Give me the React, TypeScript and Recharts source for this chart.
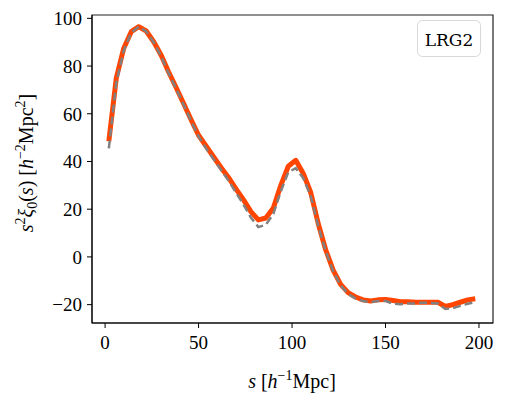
import { LineChart, Line, XAxis, YAxis, ReferenceArea } from 'recharts'

// separation bins (h^-1 Mpc)
const sBins = [
  2, 6, 10, 14, 18, 22, 26, 30, 34, 38, 42, 46, 50, 54, 58, 62, 66, 70, 74, 78, 82, 86, 90, 94, 98,
  102, 106, 110, 114, 118, 122, 126, 130, 134, 138, 142, 146, 150, 154, 158, 162, 166, 170, 174, 178,
  182, 186, 190, 194, 198,
]

// s^2 xi_0 for the thick orange curve
const xiOrange = [
  48.5, 75, 87.5, 94.4, 96.5, 94.7, 90.2, 84.5, 77.5, 71, 64.3, 57.5, 51, 46.5, 42, 37.5, 33.3, 28.5, 24,
  19, 15.5, 16.3, 20.5, 30, 38, 40.5, 35, 27, 14, 3, -5.5, -11.5, -15, -16.8, -18, -18.5, -18, -17.8,
  -18.3, -18.8, -18.8, -19, -19, -19, -19, -20.8, -20, -19, -18, -17.5,
]

// s^2 xi_0 for the grey dashed curve
const xiGray = [
  45.5, 73, 86.5, 94, 96.5, 94.5, 90, 84, 77, 70.5, 63.8, 57, 50.5, 45.5, 41, 36.5, 32, 27, 22, 16.5,
  12.5, 13.5, 18, 27.5, 35.5, 37.2, 33, 25.5, 13, 2.5, -6, -12, -15.5, -17.5, -18.5, -19, -18.5, -18.5,
  -19.6, -19.8, -19.5, -19.5, -19.2, -19.3, -19.5, -21.8, -21.5, -20.5, -19.6, -18.9,
]

const xTicks = [0, 50, 100, 150, 200]
const yTicks = [-20, 0, 20, 40, 60, 80, 100]
const tracer = 'LRG2'

const xDomain: [number, number] = [-7, 207.5]
const yDomain: [number, number] = [-27.7, 101.4]

const fmt = (v: number) => (v < 0 ? `\u2212${Math.abs(v)}` : `${v}`)
const serif = '"Liberation Serif", "DejaVu Serif", serif'

export default function App() {
  const data = sBins.map((s, i) => ({ s, orange: xiOrange[i], gray: xiGray[i] }))

  return (
    <div style={{ position: 'absolute', left: 0, top: 0, width: 506, height: 397, background: '#fff' }}>
      <LineChart width={506} height={397} data={data} margin={{ top: 15, right: 13, bottom: 0, left: 0 }}>
        <XAxis
          dataKey="s"
          type="number"
          domain={xDomain}
          ticks={xTicks}
          allowDataOverflow
          height={74}
          tickSize={5}
          tickMargin={8}
          tickFormatter={fmt}
          stroke="#000"
          tick={{ fill: '#000', fontSize: 19, fontFamily: serif }}
        />
        <YAxis
          type="number"
          domain={yDomain}
          ticks={yTicks}
          allowDataOverflow
          width={92}
          tickSize={5}
          tickMargin={5}
          tickFormatter={fmt}
          stroke="#000"
          tick={{ fill: '#000', fontSize: 19, fontFamily: serif }}
        />
        <ReferenceArea x1={xDomain[0]} x2={xDomain[1]} y1={yDomain[0]} y2={yDomain[1]} fill="none" stroke="#222" strokeWidth={1.2} />
        <Line dataKey="orange" stroke="#ff4500" strokeWidth={5} dot={false} isAnimationActive={false} strokeLinejoin="round" />
        <Line dataKey="gray" stroke="#808080" strokeWidth={2.5} strokeDasharray="8 4" dot={false} isAnimationActive={false} />
      </LineChart>
      <svg width={506} height={397} style={{ position: 'absolute', left: 0, top: 0, pointerEvents: 'none' }}>
        <rect x={417.5} y={20.5} width={63} height={36} rx={5} fill="#fff" fillOpacity={0.8} stroke="#d8d8d8" strokeWidth={1} />
        <text x={449} y={46} textAnchor="middle" fontSize={17} fontFamily='"DejaVu Serif", serif' fill="#000">
          {tracer}
        </text>
        <text x={292} y={388} textAnchor="middle" fontSize={20} fontFamily={serif} fill="#000">
          <tspan fontStyle="italic">s</tspan>
          <tspan> [</tspan>
          <tspan fontStyle="italic">h</tspan>
          <tspan dy={-8} fontSize={14}>−1</tspan>
          <tspan dy={8}>Mpc]</tspan>
        </text>
        <text transform="translate(33,163) rotate(-90)" textAnchor="middle" fontSize={20} fontFamily={serif} fill="#000">
          <tspan fontStyle="italic">s</tspan>
          <tspan dy={-8} fontSize={14}>2</tspan>
          <tspan dy={8} fontStyle="italic">ξ</tspan>
          <tspan dy={4} fontSize={14}>0</tspan>
          <tspan dy={-4}>(</tspan>
          <tspan fontStyle="italic">s</tspan>
          <tspan>) [</tspan>
          <tspan fontStyle="italic">h</tspan>
          <tspan dy={-8} fontSize={14}>−2</tspan>
          <tspan dy={8}>Mpc</tspan>
          <tspan dy={-8} fontSize={14}>2</tspan>
          <tspan dy={8}>]</tspan>
        </text>
      </svg>
    </div>
  )
}
